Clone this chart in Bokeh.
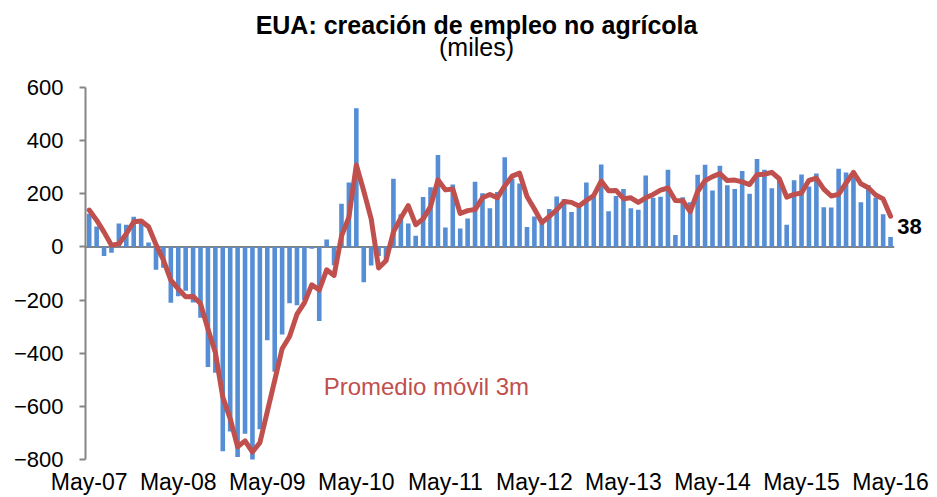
from bokeh.plotting import figure
from bokeh.models import Range1d, FixedTicker, Label, ColumnDataSource
from bokeh.embed import file_html
from bokeh.resources import INLINE

# Monthly non-farm payroll change (thousands), May-07 .. May-16
empleo = [
    125, 77, -34, -22, 88, 84, 114, 97,                               # May-07..Dec-07
    17, -86, -78, -210, -185, -165, -209, -266, -452, -473, -769, -695,  # 2008
    -791, -703, -823, -686, -351, -470, -329, -212, -219, -200, -7, -279,  # 2009
    28, -69, 163, 243, 522, -133, -70, -34, -52, 257, 123, 88,          # 2010
    42, 188, 225, 346, 73, 235, 70, 107, 246, 202, 146, 207,            # 2011
    338, 257, 239, 75, 115, 87, 143, 190, 181, 132, 149, 243,           # 2012
    190, 311, 135, 192, 218, 146, 140, 269, 185, 189, 291, 45,          # 2013
    187, 168, 272, 310, 213, 306, 232, 218, 286, 200, 331, 291,         # 2014
    221, 260, 84, 251, 273, 228, 277, 150, 149, 295, 280, 267,          # 2015
    168, 233, 186, 123, 38,                                             # 2016
]

# 3-month moving average, as drawn
promedio_3m = [
    139, 101, 56, 7, 11, 50, 95, 98,
    76, 9, -49, -125, -158, -187, -186, -213, -309, -397, -565, -646,
    -752, -730, -772, -737, -620, -502, -383, -337, -253, -210, -142, -162,
    -86, -107, 41, 112, 309, 211, 106, -79, -52, 57, 109, 156,
    84, 106, 152, 253, 215, 218, 126, 137, 141, 185, 198, 185,
    230, 267, 278, 190, 143, 92, 115, 140, 171, 168, 154, 175,
    194, 248, 212, 213, 182, 185, 168, 185, 198, 214, 222, 175,
    174, 133, 209, 250, 265, 276, 250, 252, 245, 235, 272, 274,
    281, 257, 188, 198, 203, 251, 259, 218, 192, 198, 241, 281,
    238, 223, 196, 181, 116,
]

meses = list(range(len(empleo)))
tick_pos = [0, 12, 24, 36, 48, 60, 72, 84, 96, 108]
tick_labels = ["May-07", "May-08", "May-09", "May-10", "May-11",
               "May-12", "May-13", "May-14", "May-15", "May-16"]
y_ticks = [-800, -600, -400, -200, 0, 200, 400, 600]
y_min, y_max = -800, 600

titulo = "EUA: creación de empleo no agrícola"
subtitulo = "(miles)"
etiqueta_linea = "Promedio móvil 3m"

FONT = "Liberation Sans"
BAR = "#558ED5"
RED = "#C0504D"

n = len(empleo)
src = ColumnDataSource(dict(x=meses, v=empleo, ma=promedio_3m))

# layout geometry (pixels): value axis from y=87.5 (600) to y=461 (-800),
# categories start at x=85 with 7.42 px per month
px_per_unit = (461 - 87.5) / (y_max - y_min)
y_top = y_max + 87.5 / px_per_unit          # headroom for the titles
x_end = -0.5 + (930 - 85) / 7.42            # room for the end label

p = figure(width=937, height=497, output_backend="svg", toolbar_location=None,
           x_range=Range1d(-0.5, x_end), y_range=Range1d(y_min, y_top),
           min_border_left=85, min_border_right=7, min_border_top=0,
           min_border_bottom=36)
p.outline_line_color = None
p.xgrid.grid_line_color = None
p.ygrid.grid_line_color = None
p.background_fill_color = "white"
p.border_fill_color = "white"

# category axis line at zero (spans the categories only)
p.segment(x0=[-0.5], x1=[n - 0.5], y0=[0], y1=[0],
          line_color="#595959", line_width=1.5, level="underlay")

p.vbar(x="x", top="v", bottom=0, width=0.62, source=src,
       fill_color=BAR, line_color=None)
p.line(x="x", y="ma", source=src, line_color=RED, line_width=5,
       line_join="round", line_cap="round")

# y axis
p.yaxis.ticker = FixedTicker(ticks=y_ticks)
p.yaxis.bounds = (y_min, y_max)
p.yaxis.axis_line_color = "#868686"
p.yaxis.axis_line_width = 2
p.yaxis.major_tick_line_color = "#868686"
p.yaxis.major_tick_line_width = 2
p.yaxis.major_tick_in = 0
p.yaxis.major_tick_out = 6
p.yaxis.minor_tick_line_color = None
p.yaxis.major_label_standoff = 16
p.yaxis.major_label_text_font = FONT
p.yaxis.major_label_text_font_size = "22px"
p.yaxis.major_label_text_color = "black"

# x axis
p.xaxis.ticker = FixedTicker(ticks=tick_pos)
p.xaxis.major_label_overrides = {t: l for t, l in zip(tick_pos, tick_labels)}
p.xaxis.axis_line_color = None
p.xaxis.major_tick_line_color = None
p.xaxis.minor_tick_line_color = None
p.xaxis.major_tick_out = 0
p.xaxis.major_tick_in = 0
p.xaxis.major_label_standoff = 9
p.xaxis.major_label_text_font = FONT
p.xaxis.major_label_text_font_size = "23px"
p.xaxis.major_label_text_color = "black"

# titles and annotations
p.add_layout(Label(x=52.2, y=834, text=titulo, text_align="center",
                   text_baseline="alphabetic", text_font=FONT,
                   text_font_style="bold", text_font_size="25px",
                   text_color="black"))
p.add_layout(Label(x=52.2, y=753, text=subtitulo, text_align="center",
                   text_baseline="alphabetic", text_font=FONT,
                   text_font_size="25px", text_color="black"))
p.add_layout(Label(x=31.6, y=-524, text=etiqueta_linea, text_align="left",
                   text_baseline="alphabetic", text_font=FONT,
                   text_font_size="24px", text_color=RED))
p.add_layout(Label(x=meses[-1] + 0.9, y=77, text=str(empleo[-1]),
                   text_align="left", text_baseline="middle", text_font=FONT,
                   text_font_style="bold", text_font_size="22px",
                   text_color="black"))

open("out.html", "w").write(file_html(p, INLINE))
